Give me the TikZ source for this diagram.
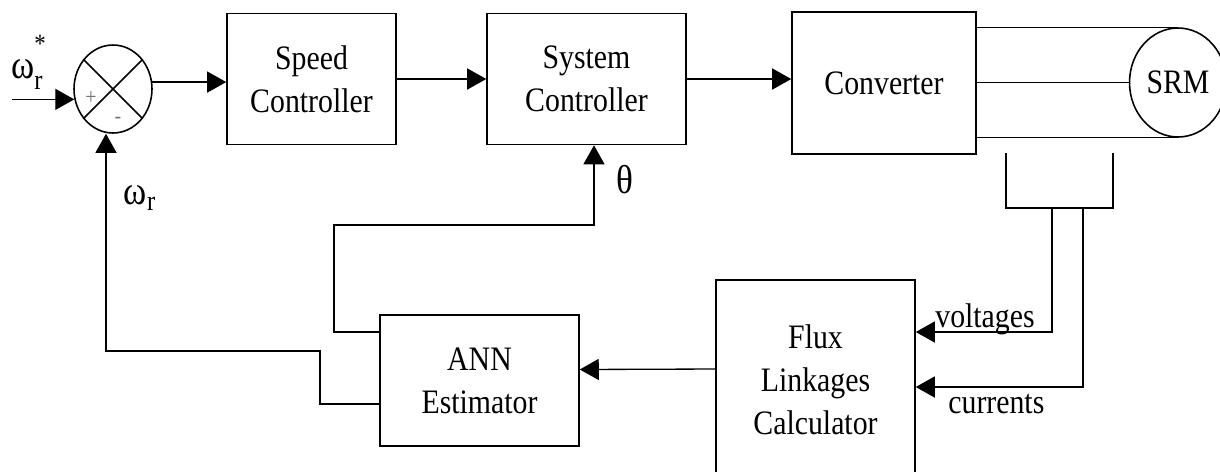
\documentclass[tikz,border=0pt]{standalone}
\usepackage{amsmath}
\usepackage{fontspec}
\setmainfont{Liberation Serif}[FakeStretch=0.87]
\usetikzlibrary{arrows.meta,shapes.geometric}

\begin{document}
\begin{tikzpicture}[x=0.02cm,y=-0.02cm,
  blk/.style={draw,line width=0.9pt,align=center,inner sep=0pt,font=\fontsize{19.5}{24.5}\selectfont},
  wire/.style={line width=0.75pt},
  arr/.style={wire,-{Triangle[length=0.38cm,width=0.42cm]}},
  lbl/.style={inner sep=0pt,font=\fontsize{19.5}{22}\selectfont},
  sym/.style={inner sep=0pt,font=\fontsize{23}{26}\selectfont},
  sgn/.style={inner sep=0pt,text=black!55,font=\fontsize{13}{13}\selectfont}]
\useasboundingbox (0,0) rectangle (1220,471);
\node[draw,ellipse,line width=0.9pt,inner sep=0pt,minimum width=1.56cm,minimum height=1.76cm] (sum) at (113,89) {};
\draw[line width=0.9pt] (sum.45) -- (sum.225) (sum.135) -- (sum.315);
\node[sgn] (plus) at (91,98) {+};
\node[sgn] (minus) at (118,120) {-};
\node[blk,minimum width=3.38cm,minimum height=2.62cm] (speed) at (311.5,79) {Speed\\Controller};
\node[blk,minimum width=3.98cm,minimum height=2.62cm] (sys) at (586.5,79) {System\\Controller};
\node[blk,minimum width=3.68cm,minimum height=2.84cm] (conv) at (884,83) {Converter};
\node[blk,ellipse,minimum width=1.94cm,minimum height=2.18cm] (srm) at (1178,82.5) {SRM};
\node[blk,minimum width=3.98cm,minimum height=2.62cm] (ann) at (479.5,380.5) {ANN\\Estimator};
\node[blk,minimum width=3.98cm,minimum height=4cm] (flux) at (815.5,380) {Flux\\Linkages\\Calculator};
\node[sym] (wref) at (29,62) {$\text{ω}^{\raisebox{6pt}{\fontsize{15}{15}\selectfont *}}_{\text{r}}$};
\node[sym] (wfb) at (140,198) {$\text{ω}_{\text{r}}$};
\node[sym] (th) at (625,180) {θ};
\node[lbl,anchor=base west] (vlt) at (935,327) {voltages};
\node[lbl,anchor=base west] (cur) at (948,413) {currents};
\coordinate (sensA) at (1006,153);
\coordinate (sensB) at (1113,153);
\coordinate (busL) at (1006,208);
\coordinate (busR) at (1113,208);
\coordinate (vtap) at (1052,208);
\coordinate (itap) at (1083,208);
\coordinate (thk) at (334,225);
\coordinate (wk) at (320,351);

\draw[arr] ([xshift=-1.24cm]sum.195) -- (sum.195);
\draw[arr] (sum.10) -- (sum.10 -| speed.west);
\draw[arr] (speed.east) -- (sys.west);
\draw[arr] (sys.east) -- (sys.east -| conv.west);
\draw[wire] (conv.east |- srm.north) -- (srm.north);
\draw[wire] (conv.east |- srm.west) -- (srm.west);
\draw[wire] (conv.east |- srm.south) -- (srm.south);
\draw[wire] (sensA) -- (busL) -- (busR) -- (sensB);
\draw[arr] (vtap) |- ([yshift=0.96cm]flux.east);
\draw[arr] (itap) |- ([yshift=-0.14cm]flux.east);
\draw[arr] ([yshift=0.22cm]flux.west) -- ([yshift=0.22cm]ann.east);
\draw[arr] ([yshift=0.97cm]ann.west) -| (thk) -| ([xshift=0.15cm]sys.south);
\draw[arr] ([yshift=-0.47cm]ann.west) -| (wk) -| ([xshift=-0.14cm]sum.south);
\end{tikzpicture}
\end{document}
